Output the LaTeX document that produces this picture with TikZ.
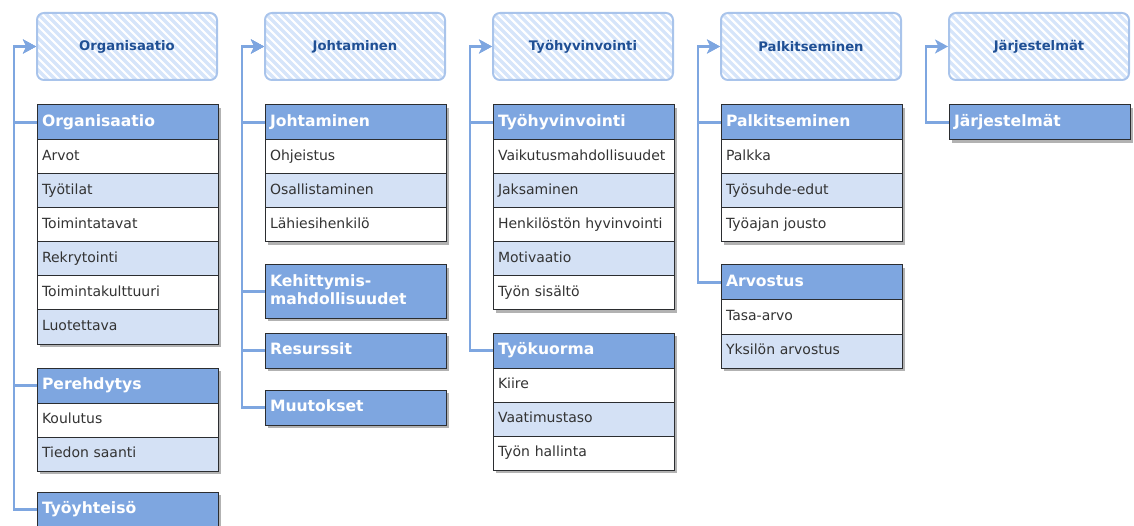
\documentclass[tikz,border=0pt]{standalone}
\usepackage{fontspec}
\setmainfont{DejaVu Sans}
\usetikzlibrary{positioning,shadows,arrows.meta}
\definecolor{hdrblue}{HTML}{7EA6E0}
\definecolor{rowblue}{HTML}{D4E1F5}
\definecolor{edge}{HTML}{2B2D30}
\definecolor{topicline}{HTML}{A9C4EB}
\definecolor{hatchblue}{HTML}{D6E5FA}
\definecolor{topictext}{HTML}{1F4F94}
\definecolor{rowtext}{HTML}{333333}
\tikzset{
  cell/.style={rectangle, draw=edge, line width=1pt, outer sep=0pt, inner xsep=5pt,
    text width=171pt, align=left, minimum height=34pt,
    drop shadow={shadow xshift=3pt, shadow yshift=-3pt, fill=black, opacity=0.3}},
  hdr/.style={cell, fill=hdrblue, text=white, minimum height=35pt,
    text height=11.5pt, text depth=3.5pt,
    font=\bfseries\fontsize{15.6}{18}\selectfont},
  rowW/.style={cell, fill=white, text=rowtext, text height=10.5pt, text depth=3pt,
    font=\fontsize{14}{16}\selectfont},
  rowB/.style={rowW, fill=rowblue},
  topic/.style={rectangle, rounded corners=7pt, draw=topicline, line width=2pt,
    minimum width=180pt, minimum height=67pt, text=topictext,
    font=\bfseries\fontsize{13.2}{15}\selectfont,
    path picture={\foreach \k in {-80,-72,...,200}
      \draw[hatchblue, line width=3.2pt] (path picture bounding box.north west) ++(\k pt,0pt) -- ++(80pt,-80pt);}},
  conn/.style={draw=hdrblue, line width=2.5pt, -{Stealth[length=13pt,width=14pt,inset=3.5pt]}}
}
\begin{document}
\begin{tikzpicture}[x=1pt, y=-1pt]
\useasboundingbox (0,0) rectangle (1134,526);

% topic boxes
\node[topic] (t1) at (127,46.5) {Organisaatio};
\node[topic] (t2) at (355,46.5) {Johtaminen};
\node[topic] (t3) at (583,46.5) {Työhyvinvointi};
\node[topic] (t4) at (811,46.5) {Palkitseminen};
\node[topic] (t5) at (1039,46.5) {Järjestelmät};

% Organisaatio
\node[hdr, anchor=north west] (orgH) at (37,105) {Organisaatio};
\node[rowW, below=0pt of orgH] (org1) {Arvot};
\node[rowB, below=0pt of org1] (org2) {Työtilat};
\node[rowW, below=0pt of org2] (org3) {Toimintatavat};
\node[rowB, below=0pt of org3] (org4) {Rekrytointi};
\node[rowW, below=0pt of org4] (org5) {Toimintakulttuuri};
\node[rowB, below=0pt of org5] (org6) {Luotettava};
\node[hdr, anchor=north west] (perH) at (37,368) {Perehdytys};
\node[rowW, below=0pt of perH] (per1) {Koulutus};
\node[rowB, below=0pt of per1] (per2) {Tiedon saanti};
\node[hdr, anchor=north west] (yhtH) at (37,492) {Työyhteisö};

% Johtaminen
\node[hdr, anchor=north west] (johH) at (265,105) {Johtaminen};
\node[rowW, below=0pt of johH] (joh1) {Ohjeistus};
\node[rowB, below=0pt of joh1] (joh2) {Osallistaminen};
\node[rowW, below=0pt of joh2] (joh3) {Lähiesihenkilö};
\node[hdr, anchor=north west, minimum height=53pt, text depth=21.5pt] (kehH) at (265,265) {Kehittymis-\\mahdollisuudet};
\node[hdr, anchor=north west] (resH) at (265,333) {Resurssit};
\node[hdr, anchor=north west] (muuH) at (265,390) {Muutokset};

% Työhyvinvointi
\node[hdr, anchor=north west] (hyvH) at (493,105) {Työhyvinvointi};
\node[rowW, below=0pt of hyvH] (hyv1) {Vaikutusmahdollisuudet};
\node[rowB, below=0pt of hyv1] (hyv2) {Jaksaminen};
\node[rowW, below=0pt of hyv2] (hyv3) {Henkilöstön hyvinvointi};
\node[rowB, below=0pt of hyv3] (hyv4) {Motivaatio};
\node[rowW, below=0pt of hyv4] (hyv5) {Työn sisältö};
\node[hdr, anchor=north west] (kuoH) at (493,333) {Työkuorma};
\node[rowW, below=0pt of kuoH] (kuo1) {Kiire};
\node[rowB, below=0pt of kuo1] (kuo2) {Vaatimustaso};
\node[rowW, below=0pt of kuo2] (kuo3) {Työn hallinta};

% Palkitseminen
\node[hdr, anchor=north west] (palH) at (721,105) {Palkitseminen};
\node[rowW, below=0pt of palH] (pal1) {Palkka};
\node[rowB, below=0pt of pal1] (pal2) {Työsuhde-edut};
\node[rowW, below=0pt of pal2] (pal3) {Työajan jousto};
\node[hdr, anchor=north west] (arvH) at (721,265) {Arvostus};
\node[rowW, below=0pt of arvH] (arv1) {Tasa-arvo};
\node[rowB, below=0pt of arv1] (arv2) {Yksilön arvostus};

% Järjestelmät
\node[hdr, anchor=north west] (jarH) at (949,105) {Järjestelmät};

% connectors
\draw[conn] (yhtH.west) -- ++(-23,0) |- (t1.west);
\draw[conn] (perH.west) -- ++(-23,0) |- (t1.west);
\draw[conn] (orgH.west) -- ++(-23,0) |- (t1.west);

\draw[conn] (muuH.west) -- ++(-23,0) |- (t2.west);
\draw[conn] (resH.west) -- ++(-23,0) |- (t2.west);
\draw[conn] (kehH.west) -- ++(-23,0) |- (t2.west);
\draw[conn] (johH.west) -- ++(-23,0) |- (t2.west);

\draw[conn] (kuoH.west) -- ++(-23,0) |- (t3.west);
\draw[conn] (hyvH.west) -- ++(-23,0) |- (t3.west);

\draw[conn] (arvH.west) -- ++(-23,0) |- (t4.west);
\draw[conn] (palH.west) -- ++(-23,0) |- (t4.west);

\draw[conn] (jarH.west) -- ++(-23,0) |- (t5.west);
\end{tikzpicture}
\end{document}
